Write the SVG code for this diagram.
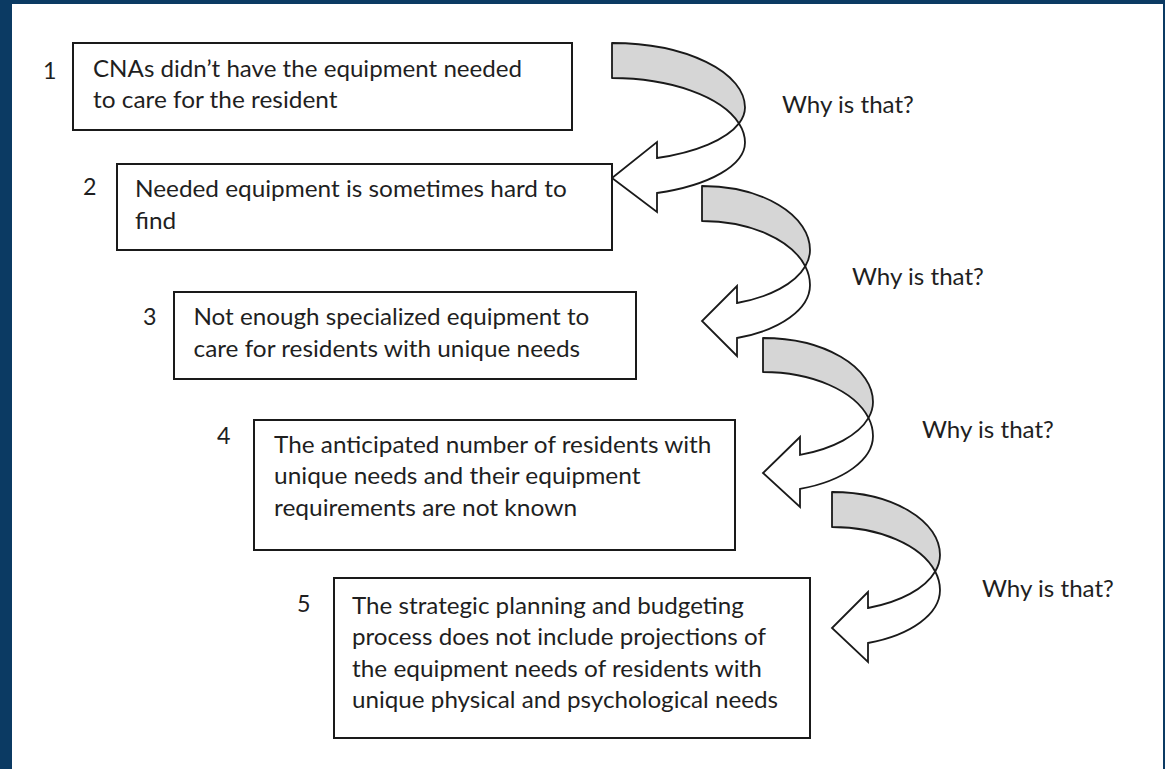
<svg xmlns="http://www.w3.org/2000/svg" width="1165" height="769" viewBox="0 0 1165 769">
  <style>
    .frame { fill: #0b3a63; }
    .page { fill: #ffffff; }
    .box { fill: #ffffff; stroke: #1a1a1a; stroke-width: 2; }
    .t { font-family: Lato, "Liberation Sans", sans-serif; font-size: 23.3px; fill: #1f1f1f; }
    .band { fill: #d6d6d6; stroke: #1a1a1a; stroke-width: 1.8; stroke-linejoin: round; }
    .shaft { fill: #ffffff; stroke: #1a1a1a; stroke-width: 1.8; stroke-linejoin: miter; }
  </style>

  <!-- slide frame -->
  <rect class="frame" x="0" y="0" width="1165" height="769"/>
  <rect class="page" x="12" y="4" width="1151" height="765"/>

  <!-- curved "why" arrows and their labels -->
  <g id="connectors">
    <g id="arrow-1-2">
      <path class="band" d="M612,43 A133,64.5 0 0 1 745,107.5 A133,53.7 0 0 1 739,123.4 A133,64.5 0 0 0 612,78 Z"/>
      <path class="shaft" d="M739,123.4 A133,64.5 0 0 1 745,142.5 A133,53.7 0 0 1 657,193 L657,212 L612,178 L657,142 L657,158 A133,53.7 0 0 0 739,123.4 Z"/>
      <text class="t" x="782" y="113" textLength="131.9" lengthAdjust="spacingAndGlyphs">Why is that?</text>
    </g>
    <g id="arrow-2-3">
      <path class="band" d="M702,186 A108,64 0 0 1 810,250 A108,56 0 0 1 805.3,266.3 A108,64 0 0 0 702,221 Z"/>
      <path class="shaft" d="M805.3,266.3 A108,64 0 0 1 810,285 A108,56 0 0 1 737,338 L737,356 L702,321 L737,286 L737,303 A108,56 0 0 0 805.3,266.3 Z"/>
      <text class="t" x="852" y="285" textLength="131.9" lengthAdjust="spacingAndGlyphs">Why is that?</text>
    </g>
    <g id="arrow-3-4">
      <path class="band" d="M763,338 A110,64 0 0 1 873,402 A110,56.2 0 0 1 868.5,417.9 A110,64 0 0 0 763,372 Z"/>
      <path class="shaft" d="M868.5,417.9 A110,64 0 0 1 873,436 A110,56.2 0 0 1 800,488.9 L800,507 L763,473 L800,437 L800,454.9 A110,56.2 0 0 0 868.5,417.9 Z"/>
      <text class="t" x="922" y="438" textLength="131.9" lengthAdjust="spacingAndGlyphs">Why is that?</text>
    </g>
    <g id="arrow-4-5">
      <path class="band" d="M832,492 A108,63 0 0 1 940,555 A108,56.2 0 0 1 935.2,571.5 A108,63 0 0 0 832,527 Z"/>
      <path class="shaft" d="M935.2,571.5 A108,63 0 0 1 940,590 A108,56.2 0 0 1 868,643 L868,662 L832,628 L868,592 L868,608 A108,56.2 0 0 0 935.2,571.5 Z"/>
      <text class="t" x="982" y="597" textLength="131.9" lengthAdjust="spacingAndGlyphs">Why is that?</text>
    </g>
  </g>

  <!-- cause boxes -->
  <g id="node-1">
    <text class="t" x="43" y="79">1</text>
    <rect class="box" x="73" y="43" width="499" height="87"/>
    <text class="t" x="93" y="76.5" textLength="429.1" lengthAdjust="spacingAndGlyphs">CNAs didn’t have the equipment needed</text>
    <text class="t" x="93" y="108" textLength="244.5" lengthAdjust="spacingAndGlyphs">to care for the resident</text>
  </g>

  <g id="node-2">
    <text class="t" x="83" y="195">2</text>
    <rect class="box" x="117" y="164" width="495" height="86"/>
    <text class="t" x="135" y="197.3" textLength="431.7" lengthAdjust="spacingAndGlyphs">Needed equipment is sometimes hard to</text>
    <text class="t" x="135" y="229" textLength="41.2" lengthAdjust="spacingAndGlyphs">find</text>
  </g>

  <g id="node-3">
    <text class="t" x="143" y="325">3</text>
    <rect class="box" x="174" y="292" width="462" height="87"/>
    <text class="t" x="193.5" y="325" textLength="395.8" lengthAdjust="spacingAndGlyphs">Not enough specialized equipment to</text>
    <text class="t" x="193.5" y="356.7" textLength="386.6" lengthAdjust="spacingAndGlyphs">care for residents with unique needs</text>
  </g>

  <g id="node-4">
    <text class="t" x="217" y="444">4</text>
    <rect class="box" x="254" y="420" width="481" height="130"/>
    <text class="t" x="274" y="452.5" textLength="437.4" lengthAdjust="spacingAndGlyphs">The anticipated number of residents with</text>
    <text class="t" x="274" y="484.2" textLength="366.5" lengthAdjust="spacingAndGlyphs">unique needs and their equipment</text>
    <text class="t" x="274" y="516" textLength="303.1" lengthAdjust="spacingAndGlyphs">requirements are not known</text>
  </g>

  <g id="node-5">
    <text class="t" x="297" y="612">5</text>
    <rect class="box" x="334" y="578" width="476" height="160"/>
    <text class="t" x="352" y="613.5" textLength="391.8" lengthAdjust="spacingAndGlyphs">The strategic planning and budgeting</text>
    <text class="t" x="352" y="645" textLength="413.9" lengthAdjust="spacingAndGlyphs">process does not include projections of</text>
    <text class="t" x="352" y="676.5" textLength="409.9" lengthAdjust="spacingAndGlyphs">the equipment needs of residents with</text>
    <text class="t" x="352" y="708" textLength="426.1" lengthAdjust="spacingAndGlyphs">unique physical and psychological needs</text>
  </g>
</svg>
